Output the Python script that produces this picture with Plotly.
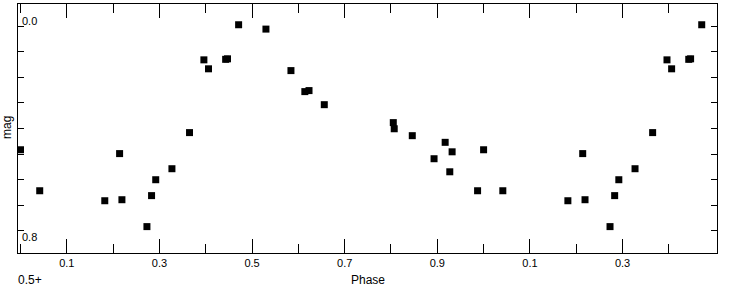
import plotly.graph_objects as go

# Phase / magnitude observations (one cycle, 0..1)
phase = [0.000, 0.0415, 0.182, 0.214, 0.219, 0.273, 0.283, 0.292, 0.327, 0.365,
         0.396, 0.406, 0.443, 0.447, 0.471, 0.530, 0.584, 0.614, 0.623, 0.656,
         0.805, 0.807, 0.846, 0.917, 0.893, 0.932, 0.927, 0.987]
mag = [0.483, 0.643, 0.682, 0.498, 0.678, 0.783, 0.662, 0.600, 0.557, 0.416,
       0.132, 0.167, 0.130, 0.128, -0.005, 0.012, 0.174, 0.256, 0.252, 0.307,
       0.377, 0.401, 0.428, 0.454, 0.518, 0.491, 0.569, 0.643]

# repeat the first half of the cycle beyond phase 1
x_all = phase + [p + 1 for p in phase if p < 0.5]
y_all = mag + [m for p, m in zip(phase, mag) if p < 0.5]

major_ticks = [0.1, 0.3, 0.5, 0.7, 0.9, 1.1, 1.3]
major_text = ["0.1", "0.3", "0.5", "0.7", "0.9", "0.1", "0.3"]
minor_ticks = [0.0, 0.2, 0.4, 0.6, 0.8, 1.0, 1.2, 1.4]
y_ticks = [0.0, 0.1, 0.2, 0.3, 0.4, 0.5, 0.6, 0.7, 0.8]

FONT = "Liberation Sans"

fig = go.Figure()
fig.add_trace(go.Scatter(
    x=x_all, y=y_all, mode="markers",
    marker=dict(symbol="square", size=7, color="black", line=dict(width=0)),
    showlegend=False, cliponaxis=True,
))

fig.update_layout(
    width=733, height=289,
    margin=dict(l=18, r=16, t=4, b=36),
    paper_bgcolor="white", plot_bgcolor="white",
    font=dict(family=FONT, size=11, color="black"),
    xaxis=dict(
        range=[-0.0054, 1.504], showgrid=False, zeroline=False,
        showline=True, linecolor="black", linewidth=1, mirror="ticks",
        ticks="inside", ticklen=14, tickwidth=1, tickcolor="black",
        tickmode="array", tickvals=major_ticks, ticktext=major_text,
        tickfont=dict(family=FONT, size=11, color="black"),
        minor=dict(tickmode="array", tickvals=minor_ticks, ticks="inside",
                   ticklen=9, tickwidth=1, tickcolor="black", showgrid=False),
    ),
    yaxis=dict(
        range=[0.886, -0.086], showgrid=False, zeroline=False,
        showline=True, linecolor="black", linewidth=1, mirror="ticks",
        ticks="inside", ticklen=6, tickwidth=1, tickcolor="black",
        tickmode="array", tickvals=y_ticks, showticklabels=False,
    ),
)

ann = [
    dict(text="0.0", x=0, xref="paper", xanchor="left", xshift=2,
         y=0.0, yref="y", yanchor="middle", yshift=5),
    dict(text="0.8", x=0, xref="paper", xanchor="left", xshift=2,
         y=0.8, yref="y", yanchor="middle", yshift=-6),
    dict(text="mag", x=7, xref="paper", y=128, yref="paper", textangle=-90),
    dict(text="Phase", x=368, y=280),
    dict(text="0.5+", x=30, y=280),
]
out = []
for a in ann:
    if a["text"] in ("mag", "Phase", "0.5+"):
        # pixel-based placement
        px, py = a["x"], a["y"]
        out.append(dict(text=a["text"], showarrow=False,
                        xref="paper", yref="paper",
                        x=(px - 18) / (733 - 18 - 16),
                        y=1 - (py - 4) / (289 - 4 - 36),
                        xanchor="center", yanchor="middle",
                        textangle=a.get("textangle", 0),
                        font=dict(family=FONT, size=12, color="black")))
    else:
        a.update(showarrow=False, font=dict(family=FONT, size=11, color="black"))
        out.append(a)
fig.update_layout(annotations=out)

fig.write_html("out.html")
